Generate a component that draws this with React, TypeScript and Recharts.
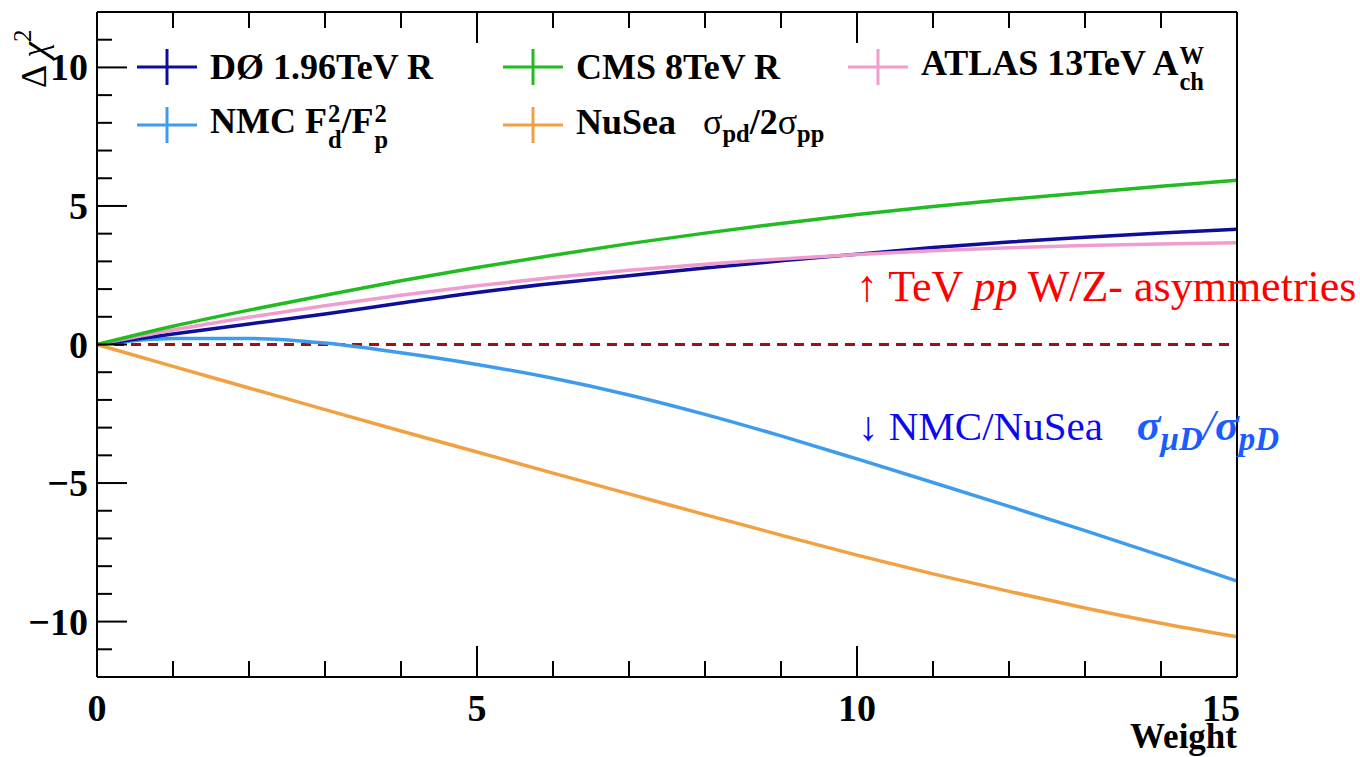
import React from 'react';
import { LineChart, Line, XAxis, YAxis, ReferenceLine, Legend } from 'recharts';

const weights = [0, 1, 2, 3, 4, 5, 6, 7, 8, 9, 10, 11, 12, 13, 14, 15];
const d0Values = [0, 0.38, 0.74, 1.1, 1.5, 1.88, 2.2, 2.48, 2.76, 3.02, 3.26, 3.5, 3.7, 3.87, 4.02, 4.16];
const cmsValues = [0, 0.66, 1.24, 1.78, 2.3, 2.78, 3.22, 3.64, 4.02, 4.37, 4.69, 4.98, 5.24, 5.48, 5.71, 5.93];
const atlasValues = [0, 0.52, 0.98, 1.4, 1.78, 2.12, 2.42, 2.68, 2.9, 3.09, 3.25, 3.38, 3.49, 3.57, 3.63, 3.67];
const nmcValues = [0, 0.22, 0.22, 0.05, -0.3, -0.72, -1.22, -1.82, -2.52, -3.3, -4.13, -4.98, -5.84, -6.72, -7.62, -8.54];
const nuseaValues = [0, -0.79, -1.57, -2.35, -3.12, -3.88, -4.64, -5.39, -6.14, -6.88, -7.6, -8.28, -8.91, -9.51, -10.06, -10.55];

const xTicks = [0, 1, 2, 3, 4, 5, 6, 7, 8, 9, 10, 11, 12, 13, 14, 15];
const yTicks = [-12, -11, -10, -9, -8, -7, -6, -5, -4, -3, -2, -1, 0, 1, 2, 3, 4, 5, 6, 7, 8, 9, 10, 11, 12];

const data = weights.map((w, i) => ({
  w,
  d0: d0Values[i],
  cms: cmsValues[i],
  atlas: atlasValues[i],
  nmc: nmcValues[i],
  nusea: nuseaValues[i],
}));

const COLORS: Record<string, string> = {
  d0: '#0e0e98',
  cms: '#22bb22',
  atlas: '#f09ccf',
  nmc: '#3f9cec',
  nusea: '#f2a142',
};

const FONT = "'Liberation Serif', 'DejaVu Serif', serif";

function SupSub({ sup, sub }: { sup?: string; sub: string }) {
  return (
    <span
      style={{
        display: 'inline-flex',
        flexDirection: 'column',
        verticalAlign: 'middle',
        fontSize: '0.68em',
        lineHeight: 1.05,
        marginLeft: 1,
        marginTop: 4,
      }}
    >
      <span>{sup ?? '\u00a0'}</span>
      <span>{sub}</span>
    </span>
  );
}

const sigma = (sub: string) => (
  <span>
    <span style={{ fontWeight: 400 }}>σ</span>
    <sub style={{ fontSize: '0.68em' }}>{sub}</sub>
  </span>
);

const legendLabels: Record<string, React.ReactNode> = {
  d0: <>DØ 1.96TeV R</>,
  cms: <>CMS 8TeV R</>,
  atlas: <>ATLAS 13TeV A<SupSub sup="W" sub="ch" /></>,
  nmc: <>NMC F<SupSub sup="2" sub="d" />/F<SupSub sup="2" sub="p" /></>,
  nusea: <>NuSea&nbsp;&nbsp;&nbsp;{sigma('pd')}/2{sigma('pp')}</>,
};

const legendSlots = [
  { key: 'd0', left: 137, top: 67 },
  { key: 'cms', left: 503, top: 67 },
  { key: 'atlas', left: 848, top: 67 },
  { key: 'nmc', left: 137, top: 125 },
  { key: 'nusea', left: 503, top: 125 },
];

function renderLegend() {
  return (
    <div style={{ position: 'relative', width: 1360, height: 160 }}>
      {legendSlots.map((s) => (
        <div
          key={s.key}
          style={{
            position: 'absolute',
            left: s.left,
            top: s.top - 22,
            height: 44,
            display: 'flex',
            alignItems: 'center',
            fontFamily: FONT,
            fontWeight: 700,
            fontSize: 36,
            color: '#000',
            whiteSpace: 'nowrap',
          }}
        >
          <svg width={60} height={44} style={{ flex: 'none' }}>
            <line x1={0} x2={60} y1={22} y2={22} stroke={COLORS[s.key]} strokeWidth={3} />
            <line x1={30} x2={30} y1={4} y2={40} stroke={COLORS[s.key]} strokeWidth={3} />
          </svg>
          <span style={{ marginLeft: 13 }}>{legendLabels[s.key]}</span>
        </div>
      ))}
    </div>
  );
}

const makeXTick = (side: 'bottom' | 'top') => (props: any) => {
  const { x, y, payload } = props;
  const v = payload.value as number;
  const major = v % 5 === 0;
  const len = major ? 31 : 16;
  const dir = side === 'bottom' ? -1 : 1;
  return (
    <g>
      <line x1={x} x2={x} y1={y} y2={y + dir * len} stroke="#000" strokeWidth={2} />
      {side === 'bottom' && major && (
        <text
          x={x}
          y={y + 44}
          textAnchor={v === 15 ? 'end' : 'middle'}
          dx={v === 15 ? 3 : 0}
          fontFamily={FONT}
          fontWeight={700}
          fontSize={38}
          fill="#000"
        >
          {v}
        </text>
      )}
    </g>
  );
};

const makeYTick = (side: 'left' | 'right') => (props: any) => {
  const { x, y, payload } = props;
  const v = payload.value as number;
  const major = v % 5 === 0;
  const len = major ? 30 : 15;
  const dir = side === 'left' ? 1 : -1;
  return (
    <g>
      <line x1={x} x2={x + dir * len} y1={y} y2={y} stroke="#000" strokeWidth={2} />
      {side === 'left' && major && (
        <text
          x={x - 9}
          y={y + 13}
          textAnchor="end"
          fontFamily={FONT}
          fontWeight={700}
          fontSize={38}
          fill="#000"
        >
          {v < 0 ? `\u2212${Math.abs(v)}` : v}
        </text>
      )}
    </g>
  );
};

export default function App() {
  return (
    <div style={{ position: 'absolute', left: 0, top: 0, width: 1360, height: 757, background: '#fff' }}>
      <LineChart
        width={1360}
        height={757}
        data={data}
        margin={{ top: 11, right: 122, bottom: 79, left: 96 }}
      >
        <XAxis
          xAxisId="bottom"
          dataKey="w"
          type="number"
          domain={[0, 15]}
          ticks={xTicks}
          interval={0}
          height={1}
          tickSize={0}
          tickMargin={0}
          tickLine={false}
          axisLine={{ stroke: '#000', strokeWidth: 2 }}
          tick={makeXTick('bottom')}
        />
        <XAxis
          xAxisId="top"
          orientation="top"
          dataKey="w"
          type="number"
          domain={[0, 15]}
          ticks={xTicks}
          interval={0}
          height={1}
          tickSize={0}
          tickMargin={0}
          tickLine={false}
          axisLine={{ stroke: '#000', strokeWidth: 2 }}
          tick={makeXTick('top')}
        />
        <YAxis
          yAxisId="left"
          type="number"
          domain={[-12, 12]}
          ticks={yTicks}
          interval={0}
          width={1}
          tickSize={0}
          tickMargin={0}
          tickLine={false}
          axisLine={{ stroke: '#000', strokeWidth: 2 }}
          tick={makeYTick('left')}
        />
        <YAxis
          yAxisId="right"
          orientation="right"
          type="number"
          domain={[-12, 12]}
          ticks={yTicks}
          interval={0}
          width={1}
          tickSize={0}
          tickMargin={0}
          tickLine={false}
          axisLine={{ stroke: '#000', strokeWidth: 2 }}
          tick={makeYTick('right')}
        />
        <ReferenceLine
          xAxisId="bottom"
          yAxisId="left"
          y={0}
          stroke="#a30f0f"
          strokeWidth={3}
          strokeDasharray="10 7"
        />
        {(['nusea', 'nmc', 'd0', 'atlas', 'cms'] as const).map((k) => (
          <Line
            key={k}
            xAxisId="bottom"
            yAxisId="left"
            type="monotone"
            dataKey={k}
            stroke={COLORS[k]}
            strokeWidth={3.5}
            dot={false}
            isAnimationActive={false}
          />
        ))}
        <Legend
          layout="horizontal"
          verticalAlign="middle"
          align="center"
          content={renderLegend}
          wrapperStyle={{ position: 'absolute', top: 0, left: 0, width: 1360, height: 160 }}
        />
      </LineChart>
      <svg
        width={1360}
        height={757}
        style={{ position: 'absolute', left: 0, top: 0, pointerEvents: 'none' }}
      >
        <text
          transform="translate(46, 88) rotate(-90)"
          fontFamily={FONT}
          fontSize={36}
          fill="#000"
        >
          <tspan>Δ </tspan>
          <tspan fontStyle="italic">χ</tspan>
          <tspan dy={-15} fontSize={25}>2</tspan>
        </text>
        <text x={1237} y={748} textAnchor="end" fontFamily={FONT} fontWeight={700} fontSize={35} fill="#000">
          Weight
        </text>
        <text x={856} y={301} fontFamily={FONT} fontSize={44} fill="#ff0000">
          <tspan>↑</tspan>
          <tspan> TeV </tspan>
          <tspan fontStyle="italic">pp</tspan>
          <tspan> W/Z- asymmetries</tspan>
        </text>
        <text x={858} y={440} fontFamily={FONT} fontSize={41} fill="#0a0aee">
          <tspan>↓</tspan>
          <tspan> NMC/NuSea</tspan>
          <tspan dx={34} fontStyle="italic" fontWeight={700} fill="#1a5cff" fontSize={44}>σ</tspan>
          <tspan fontStyle="italic" fontWeight={700} fill="#1a5cff" fontSize={33} dy={10}>μD</tspan>
          <tspan fontStyle="italic" fill="#1a5cff" fontSize={44} dy={-10}>/</tspan>
          <tspan fontStyle="italic" fontWeight={700} fill="#1a5cff" fontSize={44}>σ</tspan>
          <tspan fontStyle="italic" fontWeight={700} fill="#1a5cff" fontSize={33} dy={10}>pD</tspan>
        </text>
      </svg>
    </div>
  );
}
